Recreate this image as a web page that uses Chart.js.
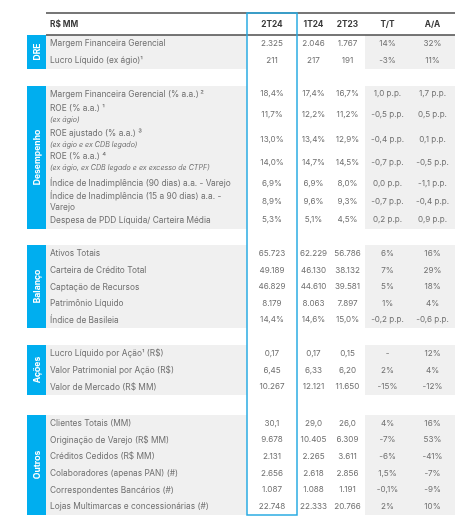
<!DOCTYPE html>
<html><head><meta charset="utf-8">
<script src="https://cdn.jsdelivr.net/npm/chart.js@4.4.1/dist/chart.umd.min.js"></script>
<style>html,body{margin:0;padding:0;background:#fff;}#wrap{width:471px;height:520px;}</style>
</head><body><div id="wrap"><canvas id="c" width="471" height="520"></canvas></div>
<script>
// ---------- DATA ----------
const columnHeaders = ['R$ MM', '2T24', '1T24', '2T23', 'T/T', 'A/A'];
const sectionNames = ['DRE', 'Desempenho', 'Balanço', 'Ações', 'Outros'];
const sectionSizes = [2, 7, 5, 3, 6];
const rowLabels = [
  'Margem Financeira Gerencial',
  'Lucro Líquido (ex ágio)¹',
  'Margem Financeira Gerencial (% a.a.)\u2009²',
  'ROE (% a.a.) ¹',
  'ROE ajustado (% a.a.) ³',
  'ROE (% a.a.) ⁴',
  'Índice de Inadimplência (90 dias) a.a. - Varejo',
  'Índice de Inadimplência (15 a 90 dias) a.a. -\nVarejo',
  'Despesa de PDD Líquida/ Carteira Média',
  'Ativos Totais',
  'Carteira de Crédito Total',
  'Captação de Recursos',
  'Patrimônio Líquido',
  'Índice de Basileia',
  'Lucro Líquido por Ação¹ (R$)',
  'Valor Patrimonial por Ação (R$)',
  'Valor de Mercado (R$ MM)',
  'Clientes Totais (MM)',
  'Originação de Varejo (R$ MM)',
  'Créditos Cedidos (R$ MM)',
  'Colaboradores (apenas PAN) (#)',
  'Correspondentes Bancários (#)',
  'Lojas Multimarcas e concessionárias (#)'
];
const rowNotes = ['', '', '', '(ex ágio)', '(ex ágio e ex CDB legado)', '(ex ágio, ex CDB legado e ex excesso de CTPF)',
  '', '', '', '', '', '', '', '', '', '', '', '', '', '', '', '', ''];
const v2T24 = [2325, 211, 18.4, 11.7, 13.0, 14.0, 6.9, 8.9, 5.3, 65723, 49189, 46829, 8179, 14.4, 0.17, 6.45, 10267, 30.1, 9678, 2131, 2656, 1087, 22748];
const v1T24 = [2046, 217, 17.4, 12.2, 13.4, 14.7, 6.9, 9.6, 5.1, 62229, 46130, 44610, 8063, 14.6, 0.17, 6.33, 12121, 29.0, 10405, 2265, 2618, 1088, 22333];
const v2T23 = [1767, 191, 16.7, 11.2, 12.9, 14.5, 8.0, 9.3, 4.5, 56786, 38132, 39581, 7897, 15.0, 0.15, 6.20, 11650, 26.0, 6309, 3611, 2856, 1191, 20766];
const valueDecimals = [0, 0, 1, 1, 1, 1, 1, 1, 1, 0, 0, 0, 0, 1, 2, 2, 0, 1, 0, 0, 0, 0, 0];
const valueSuffix = ['', '', '%', '%', '%', '%', '%', '%', '%', '', '', '', '', '%', '', '', '', '', '', '', '', '', ''];
const chgTT = [14, -3, 1.0, -0.5, -0.4, -0.7, 0.0, -0.7, 0.2, 6, 7, 5, 1, -0.2, null, 2, -15, 4, -7, -6, 1.5, -0.1, 2];
const chgAA = [32, 11, 1.7, 0.5, 0.1, -0.5, -1.1, -0.4, 0.9, 16, 29, 18, 4, -0.6, 12, 4, -12, 16, 53, -41, -7, -9, 10];
const changeUnit = ['%', '%', 'p.p.', 'p.p.', 'p.p.', 'p.p.', 'p.p.', 'p.p.', 'p.p.', '%', '%', '%', '%', 'p.p.', '%', '%', '%', '%', '%', '%', '%', '%', '%'];

// ---------- LAYOUT ----------
const headerHeight = 22;
const rowHeights = [17, 17, 16, 25, 25, 22, 19, 18, 18, 17, 17, 16, 17, 16, 17, 17, 16, 17, 16, 17, 17, 16, 17];
const sectionGaps = [17, 16, 17, 20];
const colWidths = [19, 201, 50, 33, 35, 45, 45];
const FONT = 'Inter, "Open Sans", sans-serif';
const C = { gray: '#f0f0f0', blue: '#00aeef', box: '#29abe2', text: '#707070', head: '#3a3a3a', rule: '#4a4a4a' };

const colStart = [], colEnd = [], colCenter = [];
colWidths.reduce((acc, w, i) => { colStart[i] = acc; colEnd[i] = acc + w; colCenter[i] = acc + w / 2; return acc + w; }, 0);
const totalW = colWidths.reduce((a, b) => a + b, 0);

const rowCenter = [], secStart = [], secEnd = [];
let yy = headerHeight, r = 0;
sectionSizes.forEach((n, s) => {
  secStart[s] = yy;
  for (let k = 0; k < n; k++, r++) { rowCenter[r] = yy + rowHeights[r] / 2; yy += rowHeights[r]; }
  secEnd[s] = yy;
  if (s < sectionGaps.length) yy += sectionGaps[s];
});
const totalH = yy;

function fmtNum(v, d) {
  const neg = v < 0;
  const s = Math.abs(v).toFixed(d).split('.');
  const intp = s[0].replace(/\B(?=(\d{3})+(?!\d))/g, '.');
  return (neg ? '-' : '') + intp + (d > 0 ? ',' + s[1] : '');
}
function fmtChange(v, unit) {
  if (v === null) return '-';
  if (unit === 'p.p.') return fmtNum(v, 1) + ' p.p.';
  return fmtNum(v, Number.isInteger(v) ? 0 : 1) + '%';
}
const valueCols = [v2T24, v1T24, v2T23];
const cellText = [
  ...valueCols.map(col => col.map((v, i) => fmtNum(v, valueDecimals[i]) + valueSuffix[i])),
  chgTT.map((v, i) => fmtChange(v, changeUnit[i])),
  chgAA.map((v, i) => fmtChange(v, changeUnit[i]))
];

const datasets = [
  { label: 'labels', data: rowLabels.map((_, i) => ({ x: colStart[1] + 4, y: rowCenter[i] })) },
  ...cellText.map((col, k) => ({ label: columnHeaders[k + 1], data: col.map((_, i) => ({ x: colCenter[k + 2], y: rowCenter[i] })) }))
].map(d => Object.assign(d, { pointRadius: 0, pointHoverRadius: 0, showLine: false }));

const tablePlugin = {
  id: 'table',
  beforeDatasetsDraw(chart) {
    const ctx = chart.ctx, xs = chart.scales.x, ys = chart.scales.y;
    const X = v => xs.getPixelForValue(v), Y = v => ys.getPixelForValue(v);
    ctx.save();
    sectionNames.forEach((name, s) => {
      const y0 = Y(secStart[s]), y1 = Y(secEnd[s]);
      ctx.fillStyle = C.gray;
      ctx.fillRect(X(colStart[1]), y0, X(colEnd[1]) - X(colStart[1]), y1 - y0);
      ctx.fillRect(X(colStart[5]), y0, X(colEnd[6]) - X(colStart[5]), y1 - y0);
      ctx.fillStyle = C.blue;
      ctx.fillRect(X(colStart[0]), y0, X(colEnd[0]) - X(colStart[0]), y1 - y0);
      ctx.save();
      ctx.translate(X(colCenter[0]), (y0 + y1) / 2);
      ctx.rotate(-Math.PI / 2);
      ctx.fillStyle = '#fff';
      ctx.font = 'bold 8.6px ' + FONT;
      ctx.textAlign = 'center'; ctx.textBaseline = 'middle';
      ctx.fillText(name, 0, 0.5);
      ctx.restore();
    });
    // header rules
    ctx.strokeStyle = C.rule; ctx.lineWidth = 1.5;
    [0, headerHeight].forEach(v => {
      ctx.beginPath(); ctx.moveTo(X(colStart[1]), Y(v)); ctx.lineTo(X(totalW), Y(v)); ctx.stroke();
    });
    // header texts
    ctx.fillStyle = C.head; ctx.font = 'bold 8.3px ' + FONT; ctx.textBaseline = 'middle';
    const hy = Y(headerHeight / 2) + 1;
    ctx.textAlign = 'left';
    ctx.fillText(columnHeaders[0], X(colStart[1]) + 4, hy);
    ctx.textAlign = 'center';
    for (let k = 1; k < columnHeaders.length; k++) ctx.fillText(columnHeaders[k], X(colCenter[k + 1]), hy);
    ctx.restore();
  },
  afterDatasetsDraw(chart) {
    const ctx = chart.ctx, xs = chart.scales.x, ys = chart.scales.y;
    ctx.save();
    ctx.textBaseline = 'middle';
    // row labels
    const lm = chart.getDatasetMeta(0);
    lm.data.forEach((pt, i) => {
      ctx.fillStyle = C.text; ctx.textAlign = 'left';
      ctx.font = '8.35px ' + FONT;
      const lines = rowLabels[i].split('\n');
      if (rowNotes[i]) {
        ctx.fillText(lines[0], pt.x, pt.y - 6.5);
        ctx.font = 'italic 7.1px ' + FONT;
        ctx.fillText(rowNotes[i], pt.x, pt.y + 5);
      } else if (lines.length > 1) {
        ctx.fillText(lines[0], pt.x, pt.y - 5.5);
        ctx.fillText(lines[1], pt.x, pt.y + 5.5);
      } else {
        ctx.fillText(lines[0], pt.x, pt.y);
      }
    });
    // values
    ctx.font = '8.1px ' + FONT; ctx.textAlign = 'center'; ctx.fillStyle = C.text;
    cellText.forEach((col, k) => {
      const meta = chart.getDatasetMeta(k + 1);
      meta.data.forEach((pt, i) => ctx.fillText(col[i], pt.x, pt.y));
    });
    // highlight box on current quarter
    ctx.strokeStyle = C.box; ctx.lineWidth = 1.5;
    const bx0 = xs.getPixelForValue(colStart[2]), bx1 = xs.getPixelForValue(colEnd[2]);
    const by0 = ys.getPixelForValue(0), by1 = ys.getPixelForValue(totalH);
    ctx.strokeRect(bx0, by0, bx1 - bx0, by1 - by0);
    ctx.restore();
  }
};

new Chart(document.getElementById('c'), {
  type: 'scatter',
  data: { datasets },
  options: {
    responsive: false, animation: false,
    layout: { padding: { left: 27, right: 471 - 27 - totalW, top: 13, bottom: 520 - 13 - totalH } },
    plugins: { legend: { display: false }, tooltip: { enabled: false } },
    events: [],
    scales: {
      x: { type: 'linear', min: 0, max: totalW, display: false },
      y: { type: 'linear', min: 0, max: totalH, reverse: true, display: false }
    }
  },
  plugins: [tablePlugin]
});
</script></body></html>
